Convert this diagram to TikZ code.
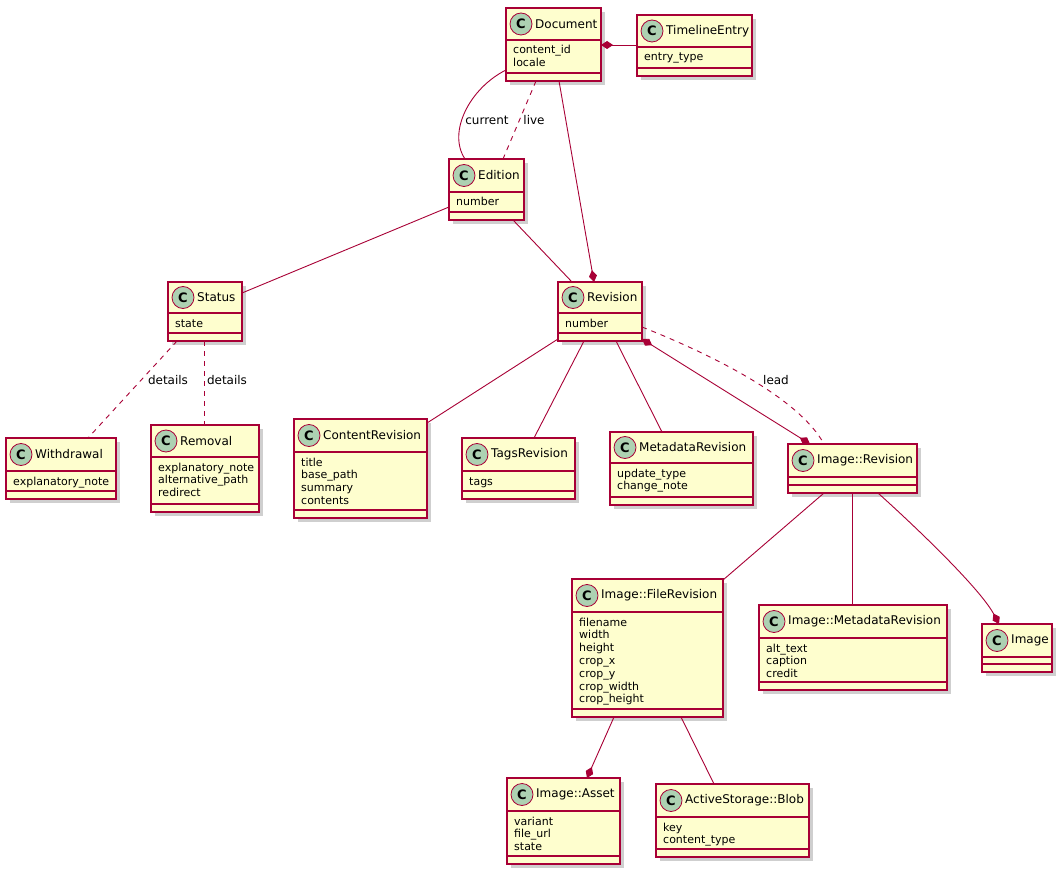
\documentclass[tikz,border=0pt]{standalone}
\usepackage{fontspec}
\setmainfont{DejaVu Sans}
\usetikzlibrary{arrows.meta,calc}
\definecolor{umlfill}{HTML}{FEFECE}
\definecolor{umlred}{HTML}{A80036}
\definecolor{umlcirc}{HTML}{ADD1B2}
\definecolor{umlshadow}{HTML}{CFCFCF}
\tikzset{
  clsbox/.style={rectangle, draw=umlred, fill=umlfill, line width=1.2pt, inner sep=0pt, outer sep=0pt},
  clsline/.style={draw=umlred, line width=1.2pt},
  shadowbox/.style={fill=umlshadow},
  circ/.style={circle, draw=umlred, fill=umlcirc, line width=0.8pt, minimum size=22pt, inner sep=0pt, font=\fontsize{13}{13}\selectfont\bfseries},
  ctitle/.style={anchor=west, inner sep=0pt, font=\fontsize{12}{14}\selectfont},
  attr/.style={anchor=base west, inner sep=0pt, font=\fontsize{11}{13}\selectfont},
  lbl/.style={inner sep=0pt, font=\fontsize{12}{14}\selectfont},
  conn/.style={draw=umlred, line width=0.9pt},
  dashconn/.style={conn, dash pattern=on 5pt off 5pt},
  compend/.style={-{Diamond[length=12pt,width=8pt]}},
  compboth/.style={{Diamond[length=12pt,width=8pt]}-{Diamond[length=12pt,width=8pt]}},
}
% #1 id, #2 title, #3 left, #4 top, #5 right, #6 header bottom, #7 attribute bottom, #8 attributes
\newcommand\umlclass[8]{%
  \fill[shadowbox] (#3+4,#4+4) rectangle (#5+4,#7+12);
  \node[clsbox, anchor=north west, minimum width={(#5-#3)*1pt}, minimum height={(#7+8-#4)*1pt}] (#1) at (#3,#4) {};
  \draw[clsline] (#3,#6) -- (#5,#6);
  \draw[clsline] (#3,#7) -- (#5,#7);
  \node[circ] (#1-c) at (#3+15,{(#4+#6)/2}) {C};
  \node[ctitle] (#1-t) at (#3+29,{(#4+#6)/2}) {#2};
  \foreach \a [count=\i] in {#8} {\node[attr] (#1-a\i) at (#3+7,{#6+14+12.8*(\i-1)}) {\a};}
}
\begin{document}
\begin{tikzpicture}[x=1pt, y=-1pt]
\useasboundingbox (0,0) rectangle (1062,874);
\fill[white] (0,0) rectangle (1062,874);

\umlclass{doc}{Document}{506}{8}{601}{40}{73}{content\_id, locale}
\umlclass{tl}{TimelineEntry}{637}{15}{752}{47}{68}{entry\_type}
\umlclass{ed}{Edition}{449}{159}{524}{192}{212}{number}
\umlclass{st}{Status}{168}{282}{242}{313}{333}{state}
\umlclass{wd}{Withdrawal}{6}{438}{116}{471}{491}{explanatory\_note}
\umlclass{rm}{Removal}{151}{425}{259}{457}{504}{explanatory\_note, alternative\_path, redirect}
\umlclass{rev}{Revision}{558}{282}{642}{313}{333}{number}
\umlclass{cr}{ContentRevision}{294}{419}{427}{452}{510}{title, base\_path, summary, contents}
\umlclass{tr}{TagsRevision}{462}{438}{575}{471}{491}{tags}
\umlclass{mr}{MetadataRevision}{610}{432}{753}{463}{497}{update\_type, change\_note}
\umlclass{ir}{Image::Revision}{788}{444}{917}{477}{485}{}
\umlclass{fr}{Image::FileRevision}{572}{579}{723}{612}{709}{filename, width, height, crop\_x, crop\_y, crop\_width, crop\_height}
\umlclass{im}{Image::MetadataRevision}{759}{605}{947}{638}{682}{alt\_text, caption, credit}
\umlclass{img}{Image}{982}{624}{1052}{657}{664}{}
\umlclass{as}{Image::Asset}{507}{778}{620}{811}{856}{variant, file\_url, state}
\umlclass{bl}{ActiveStorage::Blob}{656}{784}{809}{817}{849}{key, content\_type}

% connectors
\draw[conn, compend] ($(tl.north west)+(0,30)$) -- ($(doc.north east)+(0,37)$);
\draw[conn] ($(doc.north west)+(0,62)$) .. controls (470,88) and (447,132) .. ($(ed.north west)+(16,0)$);
\node[lbl] (lcur) at (487,120) {current};
\draw[dashconn] ($(doc.north west)+(30,73)$) -- ($(ed.north west)+(54,0)$);
\node[lbl] (llive) at (534,120) {live};
\draw[conn, compend] ($(doc.north west)+(53,73)$) -- ($(rev.north west)+(36,0)$);
\draw[conn] ($(ed.north west)+(0,48)$) -- ($(st.north east)+(0,11)$);
\draw[conn] ($(ed.north west)+(64,61)$) -- ($(rev.north west)+(14,0)$);
\draw[dashconn] ($(st.north west)+(9,59)$) -- ($(wd.north west)+(82,0)$);
\node[lbl] (ldet1) at (168,380) {details};
\draw[dashconn] ($(st.north west)+(36,59)$) -- ($(rm.north west)+(53,0)$);
\node[lbl] (ldet2) at (227,380) {details};
\draw[conn] ($(rev.north west)+(0,57)$) -- ($(cr.north east)+(0,4)$);
\draw[conn] ($(rev.north west)+(26,59)$) -- ($(tr.north west)+(72,0)$);
\draw[conn] ($(rev.north west)+(58,59)$) -- ($(mr.north west)+(52,0)$);
\draw[conn, compboth] ($(rev.north east)+(0,57)$) -- ($(ir.north west)+(22,0)$);
\draw[dashconn] ($(rev.north east)+(0,45)$) .. controls (720,358) and (800,400) .. ($(ir.north west)+(36,0)$);
\node[lbl] (llead) at (776,380) {lead};
\draw[conn] ($(ir.north west)+(36,49)$) -- ($(fr.north east)+(0,1)$);
\draw[conn] ($(ir.north west)+(64,49)$) -- ($(im.north west)+(93,0)$);
\draw[conn, compend] ($(ir.north west)+(90,49)$) .. controls (930,540) and (982,592) .. ($(img.north west)+(17,0)$);
\draw[conn, compend] ($(fr.north west)+(42,138)$) -- ($(as.north west)+(80,0)$);
\draw[conn] ($(fr.north west)+(109,138)$) -- ($(bl.north west)+(58,0)$);
\end{tikzpicture}
\end{document}
